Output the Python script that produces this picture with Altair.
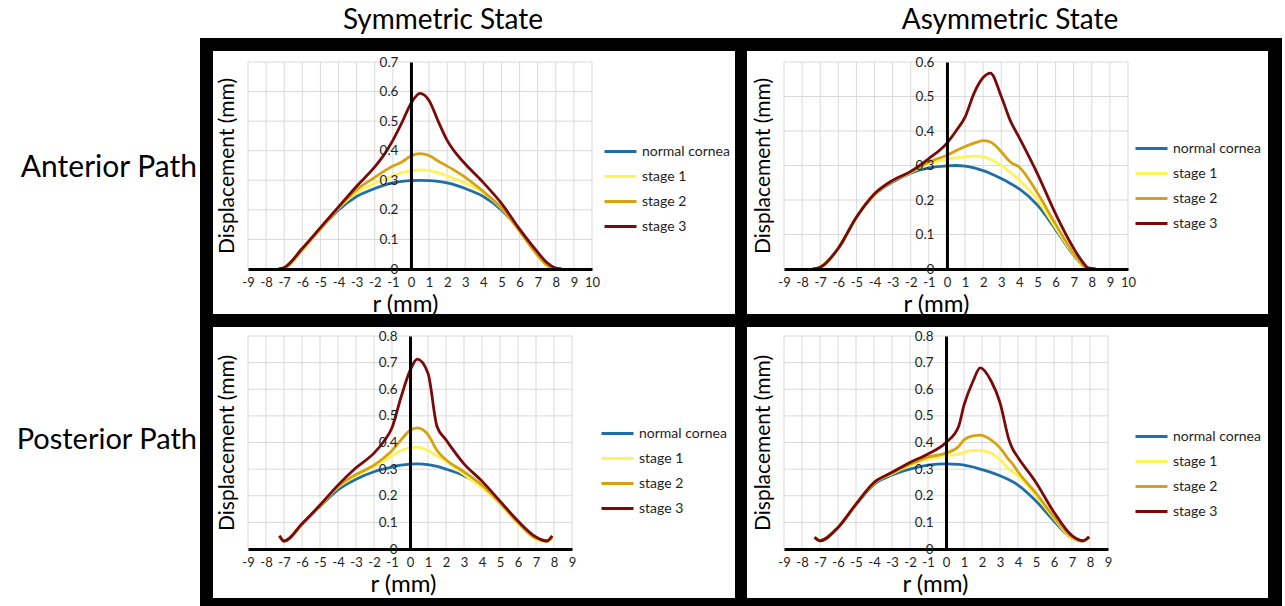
import altair as alt
import pandas as pd

# ---------------------------------------------------------------------------
# Series, labels and tick values
# ---------------------------------------------------------------------------
SERIES = ["normal cornea", "stage 1", "stage 2", "stage 3"]
SERIES_COLORS = ["#1f6ea8", "#fff35a", "#d6a20f", "#7a0a0a"]

COLUMN_TITLES = ["Symmetric State", "Asymmetric State"]
ROW_TITLES = ["Anterior Path", "Posterior Path"]
X_TITLE = "r (mm)"
Y_TITLE = "Displacement (mm)"

R_TICKS_TOP = [-9, -8, -7, -6, -5, -4, -3, -2, -1, 0, 1, 2, 3, 4, 5, 6, 7, 8, 9, 10]
R_TICKS_BOTTOM = [-9, -8, -7, -6, -5, -4, -3, -2, -1, 0, 1, 2, 3, 4, 5, 6, 7, 8, 9]
D_TICKS_06 = [0, 0.1, 0.2, 0.3, 0.4, 0.5, 0.6]
D_TICKS_07 = [0, 0.1, 0.2, 0.3, 0.4, 0.5, 0.6, 0.7]
D_TICKS_08 = [0, 0.1, 0.2, 0.3, 0.4, 0.5, 0.6, 0.7, 0.8]

# ---------------------------------------------------------------------------
# Displacement profiles (mm) along r (mm)
# ---------------------------------------------------------------------------
# Symmetric state, anterior path
sym_ant_r = [-7.3, -7.0, -6, -5, -4, -3, -2, -1.5, -1, -0.5, 0, 0.5, 1, 1.5, 2, 2.5, 3, 4, 5, 6, 7, 7.5, 8, 8.3]
sym_ant_normal = [0, 0.003, 0.065, 0.135, 0.2, 0.245, 0.272, 0.283, 0.291, 0.296, 0.299, 0.3, 0.299, 0.296, 0.291, 0.283, 0.272, 0.245, 0.2, 0.132, 0.052, 0.02, 0.002, 0]
sym_ant_stage1 = [0, 0.003, 0.065, 0.135, 0.205, 0.258, 0.29, 0.303, 0.315, 0.326, 0.332, 0.335, 0.333, 0.326, 0.315, 0.303, 0.29, 0.258, 0.205, 0.128, 0.045, 0.012, 0, 0]
sym_ant_stage2 = [0, 0.003, 0.066, 0.137, 0.207, 0.268, 0.31, 0.33, 0.348, 0.362, 0.382, 0.39, 0.384, 0.365, 0.348, 0.33, 0.31, 0.262, 0.207, 0.128, 0.046, 0.013, 0, 0]
sym_ant_stage3 = [0, 0.005, 0.07, 0.14, 0.21, 0.28, 0.345, 0.385, 0.435, 0.495, 0.56, 0.594, 0.57, 0.5, 0.435, 0.39, 0.355, 0.292, 0.222, 0.135, 0.057, 0.022, 0.003, 0]

# Asymmetric state, anterior path
asym_ant_r = [-7.4, -7.0, -6, -5, -4, -3, -2, -1, 0, 0.5, 1, 1.5, 2, 2.4, 3, 3.5, 4, 5, 6, 7, 7.5, 7.8, 8.2]
asym_ant_normal = [0, 0.005, 0.06, 0.15, 0.215, 0.252, 0.278, 0.293, 0.299, 0.3, 0.298, 0.293, 0.285, 0.277, 0.262, 0.248, 0.232, 0.185, 0.115, 0.04, 0.01, 0, 0]
asym_ant_stage1 = [0, 0.005, 0.06, 0.15, 0.216, 0.255, 0.28, 0.305, 0.318, 0.322, 0.325, 0.327, 0.325, 0.318, 0.3, 0.28, 0.258, 0.2, 0.12, 0.042, 0.01, 0, 0]
asym_ant_stage2 = [0, 0.005, 0.06, 0.15, 0.217, 0.256, 0.281, 0.31, 0.33, 0.343, 0.355, 0.365, 0.372, 0.368, 0.34, 0.31, 0.295, 0.22, 0.13, 0.045, 0.012, 0, 0]
asym_ant_stage3 = [0, 0.005, 0.06, 0.15, 0.218, 0.257, 0.283, 0.32, 0.365, 0.4, 0.44, 0.51, 0.555, 0.568, 0.5, 0.43, 0.38, 0.276, 0.16, 0.06, 0.02, 0.003, 0]

# Symmetric state, posterior path
sym_post_r = [-7.25, -7.0, -6, -5, -4, -3, -2, -1.5, -1, -0.5, 0, 0.4, 1, 1.5, 2, 3, 4, 5, 6, 7, 7.6, 7.9]
sym_post_normal = [0.05, 0.03, 0.092, 0.16, 0.222, 0.262, 0.29, 0.3, 0.308, 0.315, 0.319, 0.32, 0.317, 0.31, 0.3, 0.275, 0.235, 0.17, 0.098, 0.04, 0.03, 0.045]
sym_post_stage1 = [0.05, 0.03, 0.093, 0.162, 0.232, 0.275, 0.31, 0.328, 0.35, 0.37, 0.38, 0.383, 0.37, 0.35, 0.33, 0.28, 0.23, 0.17, 0.095, 0.037, 0.028, 0.045]
sym_post_stage2 = [0.05, 0.03, 0.093, 0.163, 0.235, 0.28, 0.315, 0.34, 0.37, 0.41, 0.445, 0.455, 0.43, 0.37, 0.335, 0.29, 0.24, 0.175, 0.1, 0.04, 0.03, 0.045]
sym_post_stage3 = [0.05, 0.03, 0.095, 0.165, 0.24, 0.305, 0.36, 0.4, 0.455, 0.57, 0.67, 0.713, 0.66, 0.46, 0.41, 0.32, 0.255, 0.18, 0.105, 0.045, 0.03, 0.05]

# Asymmetric state, posterior path
asym_post_r = [-7.3, -7.0, -6, -5, -4, -3, -2, -1, 0, 0.7, 1, 1.5, 1.9, 2.5, 3, 3.5, 3.7, 4, 5, 6, 7, 7.6, 7.95]
asym_post_normal = [0.044, 0.031, 0.08, 0.166, 0.243, 0.278, 0.3, 0.315, 0.32, 0.318, 0.315, 0.308, 0.3, 0.288, 0.275, 0.26, 0.253, 0.24, 0.18, 0.105, 0.04, 0.03, 0.045]
asym_post_stage1 = [0.044, 0.031, 0.081, 0.168, 0.247, 0.283, 0.314, 0.338, 0.35, 0.357, 0.363, 0.37, 0.37, 0.36, 0.335, 0.3, 0.29, 0.275, 0.2, 0.115, 0.04, 0.03, 0.045]
asym_post_stage2 = [0.044, 0.031, 0.081, 0.168, 0.248, 0.285, 0.318, 0.345, 0.36, 0.385, 0.41, 0.425, 0.428, 0.41, 0.38, 0.335, 0.32, 0.29, 0.21, 0.12, 0.045, 0.03, 0.045]
asym_post_stage3 = [0.044, 0.031, 0.081, 0.169, 0.25, 0.288, 0.325, 0.357, 0.4, 0.46, 0.54, 0.63, 0.68, 0.632, 0.55, 0.41, 0.376, 0.344, 0.25, 0.138, 0.05, 0.031, 0.046]

# ---------------------------------------------------------------------------
# Styling
# ---------------------------------------------------------------------------
FONT = "Lato"
TEXT_COLOR = "#1e1e1e"
GRID_COLOR = "#d9d9d9"
TOP_W, TOP_H = 344, 207
BOT_W, BOT_H = 324, 213
COL_GAP, ROW_GAP = 192, 67
LINE_W = 2.8

ONE_ROW = pd.DataFrame({"k": [0]})


def long_table(r, curves):
    rows = []
    for name, values in zip(SERIES, curves):
        for rv, dv in zip(r, values):
            rows.append({"r": rv, "disp": dv, "series": name})
    return pd.DataFrame(rows)


def box(x1, x2, y1, y2, color):
    return alt.Chart(ONE_ROW).mark_rect(color=color).encode(
        x=alt.value(x1), x2=alt.value(x2), y=alt.value(y1), y2=alt.value(y2)
    )


def label(text, x, y, align, size):
    return alt.Chart(ONE_ROW).mark_text(
        text=text, font=FONT, fontSize=size, color="black", align=align, baseline="middle"
    ).encode(x=alt.value(x), y=alt.value(y))


def panel(table, r_ticks, d_ticks, w, h, black, white, legend_xy, x_title_x, extras=()):
    zero_px = w * (0 - r_ticks[0]) / (r_ticks[-1] - r_ticks[0])
    x_enc = alt.X(
        "r:Q",
        scale=alt.Scale(domain=[r_ticks[0], r_ticks[-1]], nice=False, zero=False),
        axis=alt.Axis(
            values=r_ticks, title=X_TITLE, grid=False, ticks=False,
            domainColor="black", domainWidth=3,
            labelFont=FONT, labelFontSize=13, labelColor=TEXT_COLOR, labelPadding=7,
            labelExpr="'' + datum.value", labelOverlap=False, labelFlush=False, labelBound=False,
            titleFont=FONT, titleFontSize=24, titleFontWeight="normal", titleColor="black",
            titleX=x_title_x, titleY=35, titleAlign="center", titleBaseline="middle",
            zindex=1,
        ),
    )
    y_enc = alt.Y(
        "disp:Q",
        scale=alt.Scale(domain=[0, d_ticks[-1]], nice=False, zero=True),
        axis=alt.Axis(
            values=d_ticks, title=Y_TITLE, grid=False, ticks=False, offset=-zero_px,
            domainColor="black", domainWidth=3,
            labelFont=FONT, labelFontSize=13.5, labelColor=TEXT_COLOR, labelPadding=13,
            labelExpr="'' + datum.value",
            titleFont=FONT, titleFontSize=21, titleFontWeight="normal", titleColor="black",
            titleX=-(zero_px + 21), titleY=h / 2, titleAngle=270,
            titleAlign="center", titleBaseline="middle",
            zindex=1,
        ),
    )
    vgrid = alt.Chart(pd.DataFrame({"r": r_ticks})).mark_rule(
        color=GRID_COLOR, strokeWidth=1
    ).encode(x=x_enc)
    hgrid = alt.Chart(pd.DataFrame({"disp": d_ticks})).mark_rule(
        color=GRID_COLOR, strokeWidth=1
    ).encode(y=y_enc)
    lines = alt.Chart(table).mark_line(interpolate="monotone", strokeWidth=LINE_W).encode(
        x=x_enc,
        y=y_enc,
        color=alt.Color(
            "series:N",
            scale=alt.Scale(domain=SERIES, range=SERIES_COLORS),
            legend=alt.Legend(
                title=None, orient="none", legendX=legend_xy[0], legendY=legend_xy[1],
                symbolType="stroke", symbolSize=1024, symbolStrokeWidth=LINE_W,
                labelFont=FONT, labelFontSize=14, labelColor=TEXT_COLOR,
                labelOffset=4, rowPadding=-3, padding=0,
            ),
        ),
    )
    layers = [box(*black, "black"), box(*white, "white"), vgrid, hgrid, lines] + list(extras)
    return alt.layer(*layers).properties(width=w, height=h)


top_left = panel(
    long_table(sym_ant_r, [sym_ant_normal, sym_ant_stage1, sym_ant_stage2, sym_ant_stage3]),
    R_TICKS_TOP, D_TICKS_07, TOP_W, TOP_H,
    black=(-48, 500, -24, 265), white=(-35, 487, -11, 252),
    legend_xy=(355, 72), x_title_x=157,
    extras=[label(COLUMN_TITLES[0], 195, -41, "center", 28),
            label(ROW_TITLES[0], -51, 106, "right", 30)],
)
top_right = panel(
    long_table(asym_ant_r, [asym_ant_normal, asym_ant_stage1, asym_ant_stage2, asym_ant_stage3]),
    R_TICKS_TOP, D_TICKS_06, TOP_W, TOP_H,
    black=(-49, 498, -24, 265), white=(-37, 484, -11, 252),
    legend_xy=(350, 69), x_title_x=152,
    extras=[label(COLUMN_TITLES[1], 226, -41, "center", 28)],
)
bottom_left = panel(
    long_table(sym_post_r, [sym_post_normal, sym_post_stage1, sym_post_stage2, sym_post_stage3]),
    R_TICKS_BOTTOM, D_TICKS_08, BOT_W, BOT_H,
    black=(-48, 500, -22, 270), white=(-35, 487, -9, 262),
    legend_xy=(352, 80), x_title_x=155,
    extras=[label(ROW_TITLES[1], -51, 104, "right", 29)],
)
bottom_right = panel(
    long_table(asym_post_r, [asym_post_normal, asym_post_stage1, asym_post_stage2, asym_post_stage3]),
    R_TICKS_BOTTOM, D_TICKS_08, BOT_W, BOT_H,
    black=(-49, 498, -22, 270), white=(-37, 484, -9, 262),
    legend_xy=(350, 83), x_title_x=151,
    # small white corner block that pins the page origin
    extras=[box(-784, -783, -336, -335, "white")],
)

chart = (
    alt.concat(
        top_left, top_right, bottom_left, bottom_right,
        columns=2, bounds="flush", spacing={"row": ROW_GAP, "column": COL_GAP},
    )
    .resolve_scale(color="independent", x="independent", y="independent")
    .properties(padding=0, background="white")
    .configure_view(strokeWidth=0)
)

chart.save("out.html", embed_options={"renderer": "svg", "actions": False})
